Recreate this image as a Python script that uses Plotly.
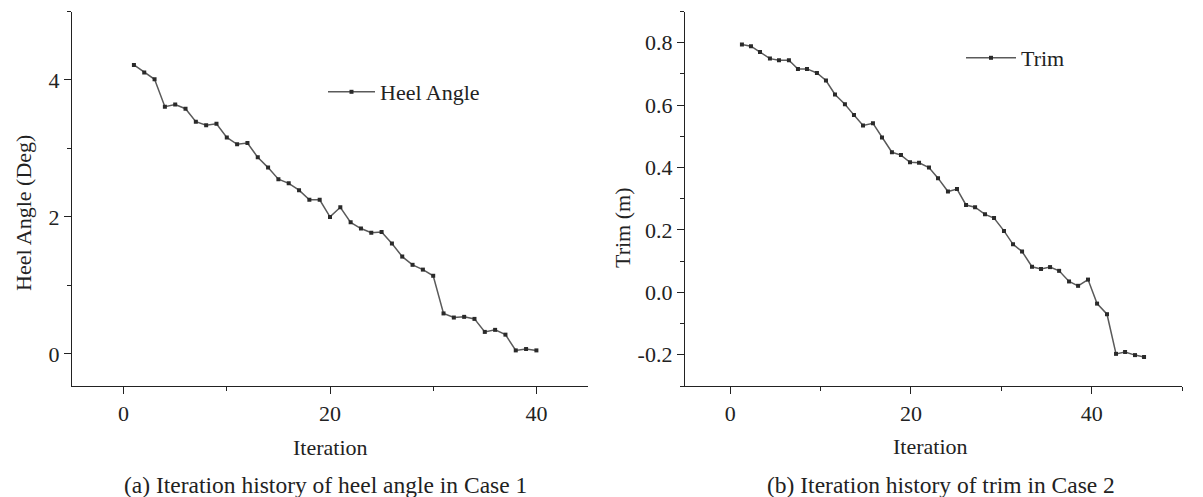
import plotly.graph_objects as go

# ---------------- data ----------------
heel_iter = [1, 2, 3, 4, 5, 6, 7, 8, 9, 10, 11, 12, 13, 14, 15, 16, 17, 18, 19, 20,
             21, 22, 23, 24, 25, 26, 27, 28, 29, 30, 31, 32, 33, 34, 35, 36, 37, 38, 39, 40]
heel_angle = [4.22, 4.11, 4.01, 3.61, 3.64, 3.58, 3.39, 3.34, 3.36, 3.16,
              3.06, 3.08, 2.87, 2.72, 2.55, 2.49, 2.39, 2.25, 2.25, 2.00,
              2.14, 1.92, 1.83, 1.77, 1.78, 1.61, 1.42, 1.30, 1.23, 1.14,
              0.59, 0.53, 0.54, 0.51, 0.32, 0.35, 0.28, 0.05, 0.07, 0.05]

trim_iter = [1.3, 2.3, 3.3, 4.4, 5.4, 6.5, 7.5, 8.5, 9.6, 10.6,
             11.6, 12.7, 13.7, 14.7, 15.8, 16.8, 17.9, 18.9, 19.9, 20.9,
             22.0, 23.0, 24.1, 25.1, 26.1, 27.1, 28.2, 29.2, 30.3, 31.3,
             32.3, 33.4, 34.4, 35.4, 36.4, 37.5, 38.5, 39.6, 40.6, 41.7,
             42.7, 43.7, 44.8, 45.8]
trim = [0.794, 0.789, 0.770, 0.749, 0.744, 0.744, 0.716, 0.716, 0.703, 0.679,
        0.634, 0.603, 0.568, 0.535, 0.542, 0.496, 0.449, 0.440, 0.417, 0.415,
        0.400, 0.366, 0.323, 0.331, 0.280, 0.273, 0.250, 0.238, 0.197, 0.154,
        0.131, 0.082, 0.075, 0.081, 0.069, 0.035, 0.021, 0.041, -0.036, -0.070,
        -0.197, -0.191, -0.201, -0.207]

x_tickvals = [0, 20, 40]
x_ticktext = ["0", "20", "40"]
heel_tickvals = [0, 2, 4]
heel_ticktext = ["0", "2", "4"]
trim_tickvals = [-0.2, 0.0, 0.2, 0.4, 0.6, 0.8]
trim_ticktext = ["-0.2", "0.0", "0.2", "0.4", "0.6", "0.8"]

# ---------------- layout helpers ----------------
W, H = 1203, 497
FONT = "Liberation Serif"
INK = "#222222"
FS = 22


def px(x):
    return x / W


def py(y):
    return (H - y) / H


line_style = dict(color="#5a5a5a", width=1.5)
marker_style = dict(symbol="square", size=4, color="#2a2a2a")

fig = go.Figure()
fig.add_trace(go.Scatter(x=heel_iter, y=heel_angle, mode="lines+markers",
                         name="Heel Angle", line=line_style, marker=marker_style,
                         xaxis="x", yaxis="y", legend="legend"))
fig.add_trace(go.Scatter(x=trim_iter, y=trim, mode="lines+markers",
                         name="Trim", line=line_style, marker=marker_style,
                         xaxis="x2", yaxis="y2", legend="legend2"))

axis_common = dict(showline=True, linecolor=INK, linewidth=1.3, ticks="outside",
                   ticklen=7, tickwidth=1.3, tickcolor=INK, showgrid=False,
                   zeroline=False, tickfont=dict(family=FONT, size=FS, color=INK),
                   mirror=False)

minor_common = dict(ticks="outside", ticklen=4, tickwidth=1.3, tickcolor=INK,
                    tickmode="linear", showgrid=False)

ydom = [py(386), py(11.5)]

fig.update_layout(
    width=W, height=H,
    margin=dict(l=0, r=0, t=0, b=0),
    paper_bgcolor="white", plot_bgcolor="white",
    font=dict(family=FONT, size=FS, color=INK),
    xaxis=dict(domain=[px(72), px(588)], range=[-5, 45], anchor="y",
               tickmode="array", tickvals=x_tickvals, ticktext=x_ticktext,
               minor=dict(tick0=0, dtick=10, **minor_common),
               **axis_common),
    yaxis=dict(domain=ydom, range=[-0.47, 5.0], anchor="x",
               tickmode="array", tickvals=heel_tickvals, ticktext=heel_ticktext,
               minor=dict(tick0=0, dtick=1, **minor_common),
               **axis_common),
    xaxis2=dict(domain=[px(685), px(1182)], range=[-5, 50], anchor="y2",
                tickmode="array", tickvals=x_tickvals, ticktext=x_ticktext,
                minor=dict(tick0=0, dtick=10, **minor_common),
                **axis_common),
    yaxis2=dict(domain=ydom, range=[-0.30, 0.90], anchor="x2",
                tickmode="array", tickvals=trim_tickvals, ticktext=trim_ticktext,
                minor=dict(tick0=0.1, dtick=0.2, **minor_common),
                **axis_common),
    legend=dict(x=px(323), y=py(92), xanchor="left", yanchor="middle",
                bgcolor="rgba(0,0,0,0)", font=dict(family=FONT, size=22, color=INK),
                itemwidth=47),
    legend2=dict(x=px(961), y=py(58), xanchor="left", yanchor="middle",
                 bgcolor="rgba(0,0,0,0)", font=dict(family=FONT, size=22, color=INK),
                 itemwidth=50),
    showlegend=True,
)

annots = [
    dict(text="Heel Angle (Deg)", x=px(23), y=py(213), textangle=-90, size=22),
    dict(text="Trim (m)", x=px(622), y=py(228), textangle=-90, size=22),
    dict(text="Iteration", x=px(330), y=py(447), size=22),
    dict(text="Iteration", x=px(931), y=py(446), size=22),
    dict(text="(a) Iteration history of heel angle in Case 1", x=px(325), y=py(485), size=23.5),
    dict(text="(b) Iteration history of trim in Case 2", x=px(941), y=py(485), size=23.5),
]
for a in annots:
    sz = a.pop("size")
    fig.add_annotation(xref="paper", yref="paper", showarrow=False,
                       xanchor="center", yanchor="middle",
                       font=dict(family=FONT, size=sz, color=INK), **a)

fig.write_html("out.html",
               config={"displayModeBar": False},
               post_script="document.body.style.margin='0';document.body.style.overflow='hidden';")
